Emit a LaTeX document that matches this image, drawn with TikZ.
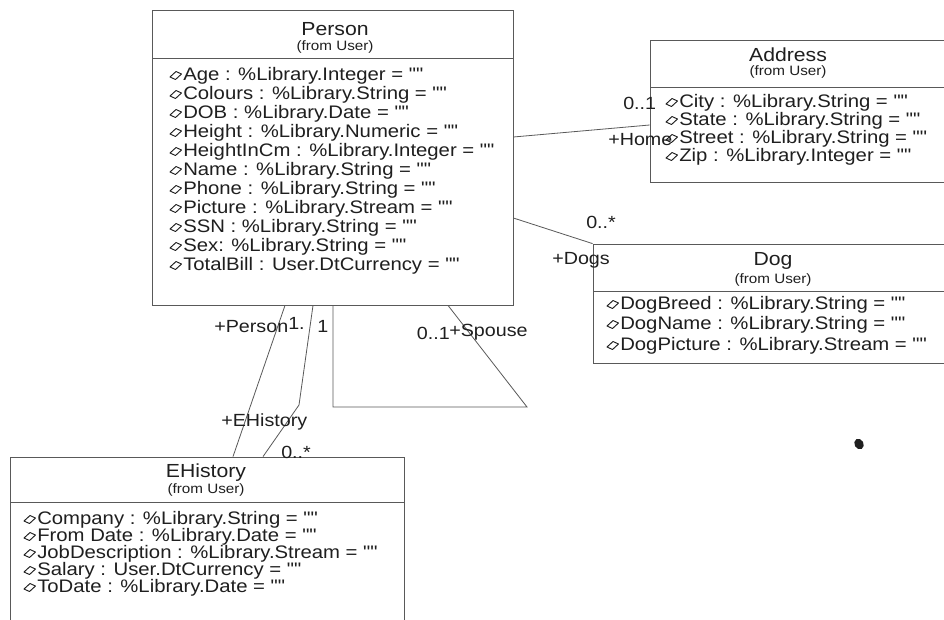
\documentclass[tikz,border=0pt]{standalone}
\usepackage{fontspec}
\setmainfont{Liberation Sans}
\newfontfamily\umlfont[FakeStretch=1.12]{Liberation Sans}
\usetikzlibrary{fit}

\definecolor{linegray}{gray}{0.35}
\definecolor{inkgray}{gray}{0.12}

\tikzset{
  classbox/.style={draw=linegray, line width=0.6pt, inner sep=0pt},
  sepline/.style={draw=linegray, line width=0.5pt},
  assoc/.style={draw=linegray, line width=0.6pt},
  attr/.style={anchor=west, inner sep=0pt, text=inkgray,
               font=\umlfont\fontsize{13.6}{15}\selectfont},
  ctitle/.style={inner sep=0pt, text=inkgray, font=\umlfont\fontsize{14.2}{16}\selectfont},
  csub/.style={inner sep=0pt, text=inkgray, font=\umlfont\fontsize{10.2}{12}\selectfont},
  rolelbl/.style={inner sep=0pt, text=inkgray, font=\umlfont\fontsize{13.2}{15}\selectfont},
}

% empty default value, printed with straight quotes
\newcommand\emptyval{\symbol{34}\symbol{34}}

% attribute row: small open diamond followed by the attribute text
\newcommand\attrrow[4]{%
  \draw[draw=inkgray, line width=0.7pt, line join=round]
    (#2,#3+1) -- ++(6,-5.5) -- ++(5.5,2.5) -- ++(-6,5.5) -- cycle;
  \node[attr] (#1) at (#2+13,#3) {#4};
}

\begin{document}
\begin{tikzpicture}[x=0.75pt, y=-0.75pt]
  \useasboundingbox (0,0) rectangle (944,619);
  \fill[white] (0,0) rectangle (944,619);

  % ---------- Person ----------
  \node[classbox, fit={(152,10) (513,305)}] (person) {};
  \draw[sepline] (152,58) -- (513,58);
  \node[ctitle] (personT) at (335,29) {Person};
  \node[csub]   (personS) at (335,47) {(from User)};
  \attrrow{pa1}{170}{76}{Age : \%Library.Integer = \emptyval}
  \attrrow{pa2}{170}{95}{Colours : \%Library.String = \emptyval}
  \attrrow{pa3}{170}{114}{DOB : \%Library.Date = \emptyval}
  \attrrow{pa4}{170}{133}{Height : \%Library.Numeric = \emptyval}
  \attrrow{pa5}{170}{152}{HeightInCm : \%Library.Integer = \emptyval}
  \attrrow{pa6}{170}{171}{Name : \%Library.String = \emptyval}
  \attrrow{pa7}{170}{190}{Phone : \%Library.String = \emptyval}
  \attrrow{pa8}{170}{209}{Picture : \%Library.Stream = \emptyval}
  \attrrow{pa9}{170}{228}{SSN : \%Library.String = \emptyval}
  \attrrow{pa10}{170}{247}{Sex: \%Library.String = \emptyval}
  \attrrow{pa11}{170}{266}{TotalBill : User.DtCurrency = \emptyval}

  % ---------- Address ----------
  \node[classbox, fit={(650,40) (960,182)}] (address) {};
  \draw[sepline] (650,87) -- (960,87);
  \node[ctitle] (addressT) at (788,55) {Address};
  \node[csub]   (addressS) at (788,72) {(from User)};
  \attrrow{aa1}{666}{103}{City : \%Library.String = \emptyval}
  \attrrow{aa2}{666}{121}{State : \%Library.String = \emptyval}
  \attrrow{aa3}{666}{139}{Street : \%Library.String = \emptyval}
  \attrrow{aa4}{666}{157}{Zip : \%Library.Integer = \emptyval}

  % ---------- Dog ----------
  \node[classbox, fit={(593,244) (960,363)}] (dog) {};
  \draw[sepline] (593,291) -- (960,291);
  \node[ctitle] (dogT) at (773,261) {Dog};
  \node[csub]   (dogS) at (773,280) {(from User)};
  \attrrow{da1}{607}{305}{DogBreed : \%Library.String = \emptyval}
  \attrrow{da2}{607}{325}{DogName : \%Library.String = \emptyval}
  \attrrow{da3}{607}{346}{DogPicture : \%Library.Stream = \emptyval}

  % ---------- EHistory ----------
  \node[classbox, fit={(10,457) (404,630)}] (ehist) {};
  \draw[sepline] (10,502) -- (404,502);
  \node[ctitle] (ehistT) at (206,473) {EHistory};
  \node[csub]   (ehistS) at (206,490) {(from User)};
  \attrrow{ea1}{24}{520}{Company : \%Library.String = \emptyval}
  \attrrow{ea2}{24}{537}{From Date : \%Library.Date = \emptyval}
  \attrrow{ea3}{24}{554}{JobDescription : \%Library.Stream = \emptyval}
  \attrrow{ea4}{24}{571}{Salary : User.DtCurrency = \emptyval}
  \attrrow{ea5}{24}{588}{ToDate : \%Library.Date = \emptyval}

  % ---------- associations ----------
  % Person -- Address (+Home)
  \draw[assoc] (person.east |- 0,137) -- (address.west |- 0,125);
  \node[rolelbl, anchor=west] (homeM) at (623,103) {0..1};
  \node[rolelbl, anchor=west] (homeR) at (608,140) {+Home};

  % Person -- Dog (+Dogs)
  \draw[assoc] (person.east |- 0,218) -- (dog.north west);
  \node[rolelbl, anchor=west] (dogsM) at (586,222) {0..*};
  \node[rolelbl, anchor=west] (dogsR) at (552,260) {+Dogs};

  % Person -- EHistory (two links)
  \draw[assoc] (285,0 |- person.south) -- (233,0 |- ehist.north);
  \draw[assoc] (313,0 |- person.south) -- (299,405) -- (263,0 |- ehist.north);
  \node[rolelbl, anchor=west] (persR) at (214,327) {+Person};
  \node[rolelbl, anchor=west] (persM1) at (288,323) {1.};
  \node[rolelbl, anchor=west] (persM2) at (317,326) {1};
  \node[rolelbl, anchor=west] (ehR) at (221,422) {+EHistory};
  \node[rolelbl, anchor=west] (ehM) at (281,452) {0..*};

  % Person -- Person (+Spouse)
  \draw[assoc] (333,0 |- person.south) -- (333,407) -- (527,407) -- (448,0 |- person.south);
  \node[rolelbl, anchor=east] (spM) at (450,333) {0..1};
  \node[rolelbl, anchor=west] (spR) at (449,332) {+Spouse};

  % stray ink dot
  \fill[inkgray, rotate around={30:(859,444)}] (859,444) ellipse (4.5 and 5.5);
\end{tikzpicture}
\end{document}
